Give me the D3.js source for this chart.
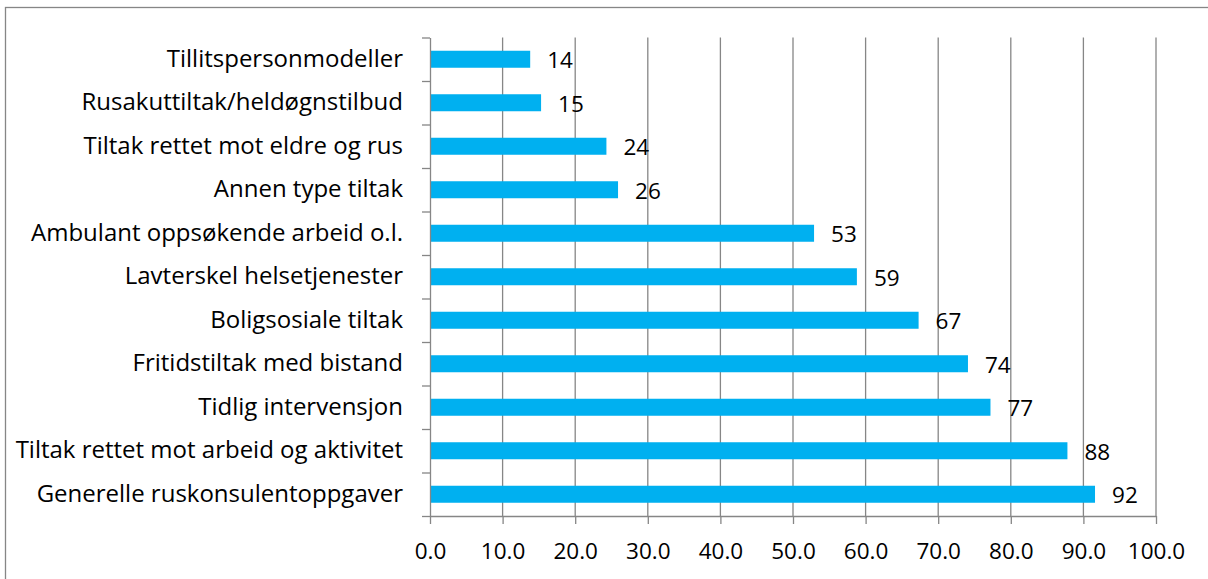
<!DOCTYPE html>
<html>
<head>
<meta charset="utf-8">
<script src="https://cdn.jsdelivr.net/npm/d3@7"></script>
<style>
  html, body { margin: 0; padding: 0; background: #fff; }
  svg { display: block; }
  text { font-family: "Open Sans", sans-serif; fill: #000; }
</style>
</head>
<body>
<svg id="chart" width="1208" height="579"></svg>
<script>
const categories = [
  "Tillitspersonmodeller",
  "Rusakuttiltak/heldøgnstilbud",
  "Tiltak rettet mot eldre og rus",
  "Annen type tiltak",
  "Ambulant oppsøkende arbeid o.l.",
  "Lavterskel helsetjenester",
  "Boligsosiale tiltak",
  "Fritidstiltak med bistand",
  "Tidlig intervensjon",
  "Tiltak rettet mot arbeid og aktivitet",
  "Generelle ruskonsulentoppgaver"
];
const values = [13.8, 15.3, 24.3, 25.9, 52.9, 58.8, 67.3, 74.1, 77.2, 87.8, 91.6];
const xTicks = [0, 10, 20, 30, 40, 50, 60, 70, 80, 90, 100];

(function () {
const svg = d3.select("#chart");
const pLeft = 430, pRight = 1156, pTop = 37.5, pBottom = 516;
const gridColor = "#868686";
const barColor = "#00B0F0";
const catFont = "24px";
const numFont = "22.5px";

// outer border
svg.append("rect")
  .attr("x", 5.5).attr("y", 7.5)
  .attr("width", 1210).attr("height", 590)
  .attr("fill", "none").attr("stroke", "#868686").attr("stroke-width", 1.3);

const x = d3.scaleLinear().domain([0, 100]).range([pLeft, pRight]);
const y = d3.scaleBand().domain(categories).range([pTop, pBottom]).padding(0);
const yEdges = d3.scaleLinear().domain([0, categories.length]).range([pTop, pBottom]);

// gridlines
svg.append("g").selectAll("line")
  .data(xTicks.filter(d => d > 0))
  .join("line")
  .attr("x1", d => x(d)).attr("x2", d => x(d))
  .attr("y1", pTop).attr("y2", pBottom)
  .attr("stroke", gridColor).attr("stroke-width", 1.3);

// bars
const barH = 17;
svg.append("g").selectAll("rect")
  .data(categories.map((c, i) => ({ c, v: values[i] })))
  .join("rect")
  .attr("x", x(0))
  .attr("y", d => y(d.c) + (y.bandwidth() - barH) / 2)
  .attr("width", d => x(d.v) - x(0))
  .attr("height", barH)
  .attr("fill", barColor);

// x axis
const xAxis = svg.append("g")
  .attr("transform", `translate(0,${pBottom})`)
  .call(d3.axisBottom(x).tickValues(xTicks).tickFormat(d3.format(".1f")).tickSize(8).tickSizeOuter(0));
xAxis.select(".domain").attr("stroke", gridColor).attr("stroke-width", 1.3);
xAxis.selectAll(".tick line").attr("stroke", gridColor).attr("stroke-width", 1.3);
xAxis.selectAll(".tick text")
  .attr("y", 43).attr("dy", 0)
  .style("font-size", numFont).style("font-family", "'Open Sans', sans-serif").attr("fill", "#000");

// y axis (ticks at category boundaries)
const yAxis = svg.append("g")
  .attr("transform", `translate(${pLeft},0)`)
  .call(d3.axisLeft(yEdges).tickValues(d3.range(categories.length + 1)).tickFormat("").tickSize(8).tickSizeOuter(0));
yAxis.select(".domain").attr("stroke", gridColor).attr("stroke-width", 1.3);
yAxis.selectAll(".tick line").attr("stroke", gridColor).attr("stroke-width", 1.3);

// category labels
svg.append("g").selectAll("text")
  .data(categories)
  .join("text")
  .attr("x", 403)
  .attr("y", d => y(d) + y.bandwidth() / 2 + 7.5)
  .attr("text-anchor", "end")
  .style("font-size", catFont)
  .text(d => d);

// value labels
svg.append("g").selectAll("text")
  .data(categories.map((c, i) => ({ c, v: values[i] })))
  .join("text")
  .attr("x", d => x(d.v) + 17)
  .attr("y", d => y(d.c) + y.bandwidth() / 2 + 8.8)
  .style("font-size", numFont)
  .text(d => d3.format(".0f")(d.v));
})();
</script>
</body>
</html>
